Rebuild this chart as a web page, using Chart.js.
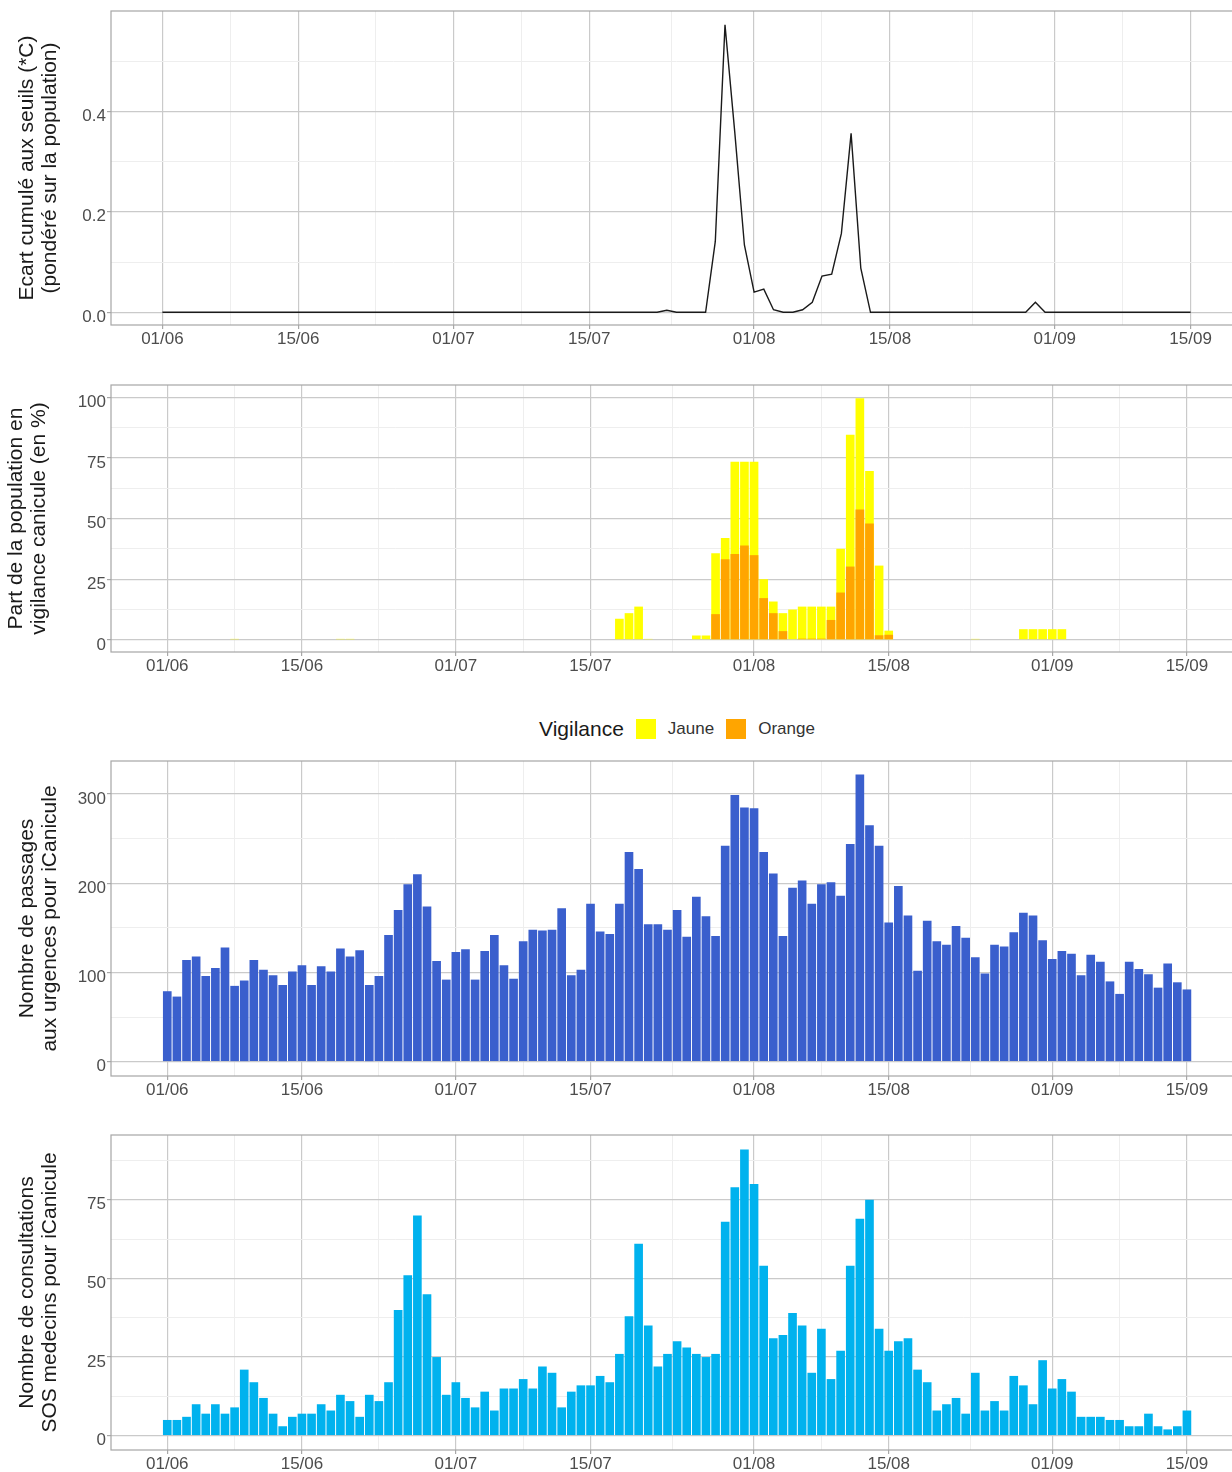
<!DOCTYPE html>
<html lang="fr">
<head>
<meta charset="utf-8">
<title>Canicule — indicateurs de l'été</title>
<script src="https://cdn.jsdelivr.net/npm/chart.js@4.4.1/dist/chart.umd.min.js"></script>
<style>
  html, body { margin: 0; padding: 0; background: #fff; }
  body {
    position: relative;
    width: 1232px;
    height: 1472px;
    overflow: hidden;
    font-family: "Liberation Sans", Arial, sans-serif;
  }
  .panneau { position: absolute; left: 0; }
  /* légende commune aux vigilances, placée sous le 2e panneau */
  .legende {
    position: absolute;
    top: 717px;
    left: 539px;
    height: 24px;
    display: flex;
    align-items: center;
    white-space: nowrap;
  }
  .legende .titre { font-size: 21px; color: #1a1a1a; margin-right: 12px; }
  .legende .carre { width: 20px; height: 20px; margin-right: 12px; }
  .legende .nom { font-size: 17px; color: #333; margin-right: 12px; }
</style>
</head>
<body>

<canvas id="graphEcart" class="panneau" width="1260" height="370" style="top:0px"></canvas>
<canvas id="graphVigilance" class="panneau" width="1260" height="320" style="top:370px"></canvas>
<div class="legende">
  <span class="titre">Vigilance</span>
  <span class="carre" style="background:#FFFF00"></span>
  <span class="nom">Jaune</span>
  <span class="carre" style="background:#FFA500"></span>
  <span class="nom">Orange</span>
</div>
<canvas id="graphUrgences" class="panneau" width="1260" height="360" style="top:740px"></canvas>
<canvas id="graphSos" class="panneau" width="1260" height="362" style="top:1110px"></canvas>

<script>
/* ============================================================
   Données (indice 0 = 01/06 ... indice 106 = 15/09)
   ============================================================ */

/* Axe des dates */
var ticksX = [0, 14, 30, 44, 61, 75, 92, 106];
var etiquettesX = ['01/06', '15/06', '01/07', '15/07', '01/08', '15/08', '01/09', '15/09'];
var ticksXMineurs = [7, 22, 37, 52.5, 68, 83.5, 99];

/* 1) Ecart cumulé aux seuils (°C, pondéré sur la population) */
var ecartSeuils = [
  0, 0, 0, 0, 0, 0, 0, 0, 0, 0,
  0, 0, 0, 0, 0, 0, 0, 0, 0, 0,
  0, 0, 0, 0, 0, 0, 0, 0, 0, 0,
  0, 0, 0, 0, 0, 0, 0, 0, 0, 0,
  0, 0, 0, 0, 0, 0, 0, 0, 0, 0,
  0, 0, 0.004, 0, 0, 0, 0, 0.141, 0.572, 0.36,
  0.134, 0.040, 0.046, 0.005, 0, 0, 0.005, 0.020, 0.072, 0.076,
  0.157, 0.356, 0.088, 0, 0, 0, 0, 0, 0, 0,
  0, 0, 0, 0, 0, 0, 0, 0, 0, 0,
  0.02, 0, 0, 0, 0, 0, 0, 0, 0, 0,
  0, 0, 0, 0, 0, 0, 0
];
var ticksEcart = [0, 0.2, 0.4];
var ticksEcartMineurs = [0.1, 0.3, 0.5];

/* 2) Part de la population en vigilance canicule (%) */
var vigilanceJaune = [
  0, 0, 0, 0, 0, 0, 0, 0.4, 0, 0,
  0, 0, 0, 0, 0, 0, 0, 0, 0.4, 0.4,
  0, 0, 0, 0, 0, 0, 0, 0, 0, 0,
  0, 0, 0, 0, 0, 0, 0, 0, 0, 0,
  0, 0, 0, 0, 0, 0, 0, 8.7, 11.0, 13.7,
  0.4, 0, 0, 0, 0, 1.8, 1.8, 35.7, 42.0, 73.4,
  73.4, 73.4, 25.0, 15.8, 11.0, 12.5, 13.7, 13.7, 13.7, 13.7,
  37.5, 84.5, 99.5, 69.6, 30.6, 3.8, 0, 0, 0, 0,
  0, 0, 0, 0, 0.4, 0, 0, 0, 0, 4.4,
  4.4, 4.4, 4.4, 4.4, 0, 0, 0, 0, 0, 0,
  0, 0, 0, 0, 0, 0, 0
];
var vigilanceOrange = [
  0, 0, 0, 0, 0, 0, 0, 0, 0, 0,
  0, 0, 0, 0, 0, 0, 0, 0, 0, 0,
  0, 0, 0, 0, 0, 0, 0, 0, 0, 0,
  0, 0, 0, 0, 0, 0, 0, 0, 0, 0,
  0, 0, 0, 0, 0, 0, 0, 0, 0, 0,
  0, 0, 0, 0, 0, 0, 0, 10.6, 33.2, 35.4,
  38.9, 34.9, 17.2, 11.0, 3.6, 0, 0.5, 0.5, 0.5, 8.2,
  19.5, 30.2, 53.7, 47.9, 1.9, 2.1, 0, 0, 0, 0,
  0, 0, 0, 0, 0, 0, 0, 0, 0, 0,
  0, 0, 0, 0, 0, 0, 0, 0, 0, 0,
  0, 0, 0, 0, 0, 0, 0
];
var ticksPart = [0, 25, 50, 75, 100];
var ticksPartMineurs = [12.5, 37.5, 62.5, 87.5];

/* 3) Passages aux urgences pour iCanicule */
var passagesUrgences = [
  79, 73, 114, 118, 96, 105, 128, 85, 91, 114,
  103, 97, 86, 101, 108, 86, 107, 101, 127, 118,
  125, 86, 96, 142, 170, 199, 210, 174, 113, 92,
  123, 126, 92, 124, 142, 108, 93, 135, 148, 147,
  148, 172, 97, 103, 177, 146, 143, 177, 235, 216,
  154, 154, 148, 170, 140, 185, 163, 141, 242, 299,
  285, 284, 235, 211, 141, 195, 203, 177, 199, 201,
  186, 244, 322, 265, 242, 156, 197, 164, 102, 158,
  135, 131, 152, 139, 117, 99, 131, 129, 145, 167,
  164, 136, 115, 124, 121, 97, 120, 112, 90, 76,
  112, 104, 98, 83, 110, 89, 81
];
var ticksUrgences = [0, 100, 200, 300];
var ticksUrgencesMineurs = [50, 150, 250];

/* 4) Consultations SOS Médecins pour iCanicule */
var consultationsSos = [
  5, 5, 6, 10, 7, 10, 7, 9, 21, 17,
  12, 7, 3, 6, 7, 7, 10, 8, 13, 11,
  6, 13, 11, 17, 40, 51, 70, 45, 25, 13,
  17, 12, 9, 14, 8, 15, 15, 18, 15, 22,
  20, 9, 14, 16, 16, 19, 17, 26, 38, 61,
  35, 22, 26, 30, 28, 26, 25, 26, 68, 79,
  91, 80, 54, 31, 32, 39, 35, 20, 34, 18,
  27, 54, 69, 75, 34, 27, 30, 31, 21, 17,
  8, 10, 12, 7, 20, 8, 11, 8, 19, 16,
  10, 24, 15, 18, 14, 6, 6, 6, 5, 5,
  3, 3, 7, 3, 2, 3, 8
];
var ticksSos = [0, 25, 50, 75];
var ticksSosMineurs = [12.5, 37.5, 62.5, 87.5];

(function () {
  'use strict';

  /* Couleurs (thème type ggplot "light") */
  var GRILLE = '#cacaca';
  var GRILLE_FINE = '#eeeeee';
  var TRAIT = '#a8a8a8';
  var BORDURE = '#a6a6a6';
  var TEXTE_AXE = '#4d4d4d';
  var TEXTE_TITRE = '#1a1a1a';
  var POLICE = '"Liberation Sans", Arial, sans-serif';

  Chart.defaults.font.family = POLICE;

  /* ------------------------------------------------------------
     OUTILS COMMUNS
     ------------------------------------------------------------ */
  function listeTicks(majeurs, mineurs) {
    return majeurs.concat(mineurs)
      .sort(function (a, b) { return a - b; })
      .map(function (v) { return { value: v }; });
  }

  function enPoints(valeurs) {
    return valeurs.map(function (v, i) { return { x: i, y: v }; });
  }

  /* cadre gris autour de la zone de tracé */
  var cadre = {
    id: 'cadre',
    afterDatasetsDraw: function (chart) {
      var a = chart.chartArea;
      var ctx = chart.ctx;
      ctx.save();
      ctx.strokeStyle = BORDURE;
      ctx.lineWidth = 1.2;
      ctx.strokeRect(a.left, a.top, a.right - a.left, a.bottom - a.top);
      ctx.restore();
    }
  };

  function grille(majeurs) {
    return {
      offset: false,
      drawTicks: true,
      tickLength: 4,
      color: function (c) {
        return c.tick && majeurs.indexOf(c.tick.value) >= 0 ? GRILLE : GRILLE_FINE;
      },
      lineWidth: function (c) {
        return c.tick && majeurs.indexOf(c.tick.value) >= 0 ? 1.2 : 1;
      },
      tickColor: function (c) {
        return c.tick && majeurs.indexOf(c.tick.value) >= 0 ? TRAIT : 'rgba(0,0,0,0)';
      }
    };
  }

  function axeX(min, max, hauteur) {
    return {
      type: 'linear',
      min: min,
      max: max,
      bounds: 'data',
      offset: false,
      afterBuildTicks: function (axe) { axe.ticks = listeTicks(ticksX, ticksXMineurs); },
      afterFit: function (axe) {
        axe.height = hauteur;
        axe.paddingLeft = 0;
        axe.paddingRight = 0;
      },
      ticks: {
        autoSkip: false,
        maxRotation: 0,
        padding: 0,
        color: TEXTE_AXE,
        font: { size: 17 },
        callback: function (v) {
          var i = ticksX.indexOf(v);
          return i >= 0 ? etiquettesX[i] : '';
        }
      },
      grid: grille(ticksX),
      border: { display: false }
    };
  }

  function axeY(min, max, majeurs, mineurs, titre, decalage, format) {
    return {
      type: 'linear',
      min: min,
      max: max,
      bounds: 'data',
      afterBuildTicks: function (axe) { axe.ticks = listeTicks(majeurs, mineurs); },
      afterFit: function (axe) {
        axe.width = 111;
        axe.paddingTop = 0;
        axe.paddingBottom = 0;
      },
      ticks: {
        autoSkip: false,
        padding: 1,
        labelOffset: 5,
        color: TEXTE_AXE,
        font: { size: 17 },
        callback: function (v) {
          return majeurs.indexOf(v) >= 0 ? format(v) : '';
        }
      },
      grid: grille(majeurs),
      border: { display: false },
      title: {
        display: true,
        text: titre,
        color: TEXTE_TITRE,
        font: { size: 21, lineHeight: 1.07 },
        padding: { top: decalage, bottom: 0 }
      }
    };
  }

  function entier(v) { return String(v); }
  function uneDecimale(v) { return v.toFixed(1); }

  function optionsBase(haut, droite, echelles) {
    return {
      responsive: false,
      animation: false,
      layout: { padding: { top: haut, right: droite, bottom: 0, left: 0 } },
      plugins: { legend: { display: false }, tooltip: { enabled: false } },
      scales: echelles
    };
  }

  /* ------------------------------------------------------------
     PANNEAU 1 — écart cumulé aux seuils (courbe)
     ------------------------------------------------------------ */
  new Chart(document.getElementById('graphEcart'), {
    type: 'line',
    data: {
      datasets: [{
        data: enPoints(ecartSeuils),
        borderColor: '#1a1a1a',
        borderWidth: 1.4,
        pointRadius: 0,
        tension: 0,
        fill: false
      }]
    },
    options: optionsBase(11, 18, {
      x: axeX(-5.3, 111.3, 45),
      y: axeY(-0.0253, 0.5996, ticksEcart, ticksEcartMineurs,
        ['Ecart cumulé aux seuils (*C)', '(pondéré sur la population)'], 16, uneDecimale)
    }),
    plugins: [cadre]
  });

  /* ------------------------------------------------------------
     PANNEAU 2 — part de la population en vigilance (barres superposées)
     ------------------------------------------------------------ */
  new Chart(document.getElementById('graphVigilance'), {
    type: 'bar',
    data: {
      datasets: [
        {
          label: 'Jaune',
          data: enPoints(vigilanceJaune),
          backgroundColor: '#FFFF00',
          grouped: false,
          order: 2,
          barPercentage: 0.9,
          categoryPercentage: 1
        },
        {
          label: 'Orange',
          data: enPoints(vigilanceOrange),
          backgroundColor: '#FFA500',
          grouped: false,
          order: 1,
          barPercentage: 0.9,
          categoryPercentage: 1
        }
      ]
    },
    options: optionsBase(15, 12, {
      x: axeX(-5.85, 112.35, 38),
      y: axeY(-5, 105, ticksPart, ticksPartMineurs,
        ['Part de la population en', 'vigilance canicule (en %)'], 5, entier)
    }),
    plugins: [cadre]
  });

  /* ------------------------------------------------------------
     PANNEAU 3 — passages aux urgences
     ------------------------------------------------------------ */
  new Chart(document.getElementById('graphUrgences'), {
    type: 'bar',
    data: {
      datasets: [{
        data: enPoints(passagesUrgences),
        backgroundColor: '#3A5FCD',
        barPercentage: 0.9,
        categoryPercentage: 1
      }]
    },
    options: optionsBase(21, 12, {
      x: axeX(-5.85, 112.35, 24),
      y: axeY(-16, 337, ticksUrgences, ticksUrgencesMineurs,
        ['Nombre de passages', 'aux urgences pour iCanicule'], 16, entier)
    }),
    plugins: [cadre]
  });

  /* ------------------------------------------------------------
     PANNEAU 4 — consultations SOS Médecins
     ------------------------------------------------------------ */
  new Chart(document.getElementById('graphSos'), {
    type: 'bar',
    data: {
      datasets: [{
        data: enPoints(consultationsSos),
        backgroundColor: '#00B2EE',
        barPercentage: 0.9,
        categoryPercentage: 1
      }]
    },
    options: optionsBase(25, 12, {
      x: axeX(-5.85, 112.35, 22),
      y: axeY(-4.55, 95.6, ticksSos, ticksSosMineurs,
        ['Nombre de consultations', 'SOS medecins pour iCanicule'], 16, entier)
    }),
    plugins: [cadre]
  });

})();
</script>
</body>
</html>
